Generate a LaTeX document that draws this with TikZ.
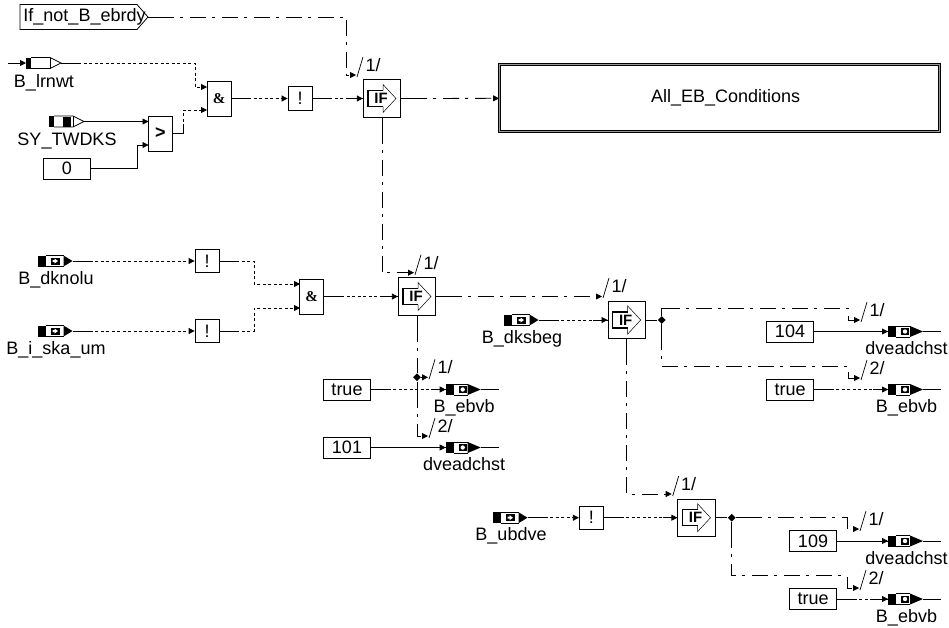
\documentclass[tikz,border=0pt]{standalone}
\usepackage{fontspec}
\setmainfont{Liberation Sans}
\newfontfamily\andfont{Liberation Serif}
\usetikzlibrary{arrows.meta,shapes.geometric}

\begin{document}
\begin{tikzpicture}[x=1pt,y=-1pt,line width=.8pt,>={Stealth[length=6pt,width=6pt,inset=0pt]},
  every node/.style={font=\fontsize{18}{20}\selectfont},
  opblock/.style={draw,inner sep=0pt,minimum width=24pt,minimum height=35pt},
  notblock/.style={draw,inner sep=0pt,minimum width=24pt,minimum height=23.5pt},
  constblock/.style={draw,inner sep=0pt,minimum width=47pt,minimum height=21pt},
  junction/.style={diamond,fill=black,inner sep=0pt,minimum size=8pt},
  dotline/.style={dash pattern=on 20pt off 2.5pt on 3pt off 2.5pt on 3pt off 2.5pt on 3pt off 2.5pt on 3pt off 2.5pt on 3pt off 2.5pt on 3pt off 2.5pt on 3pt off 2.5pt on 3pt off 2.5pt on 3pt off 2.5pt on 3pt off 2.5pt on 3pt off 2.5pt on 3pt off 2.5pt on 3pt off 2.5pt on 3pt off 2.5pt on 3pt off 2.5pt on 3pt off 2.5pt on 3pt off 2.5pt on 3pt off 2.5pt on 3pt off 2.5pt on 3pt off 2.5pt on 3pt off 2.5pt on 3pt off 2.5pt on 3pt off 2.5pt on 3pt off 2.5pt on 3pt off 2.5pt on 3pt off 2.5pt on 3pt off 2.5pt on 3pt off 2.5pt},
  chainline/.style={dash pattern=on 26pt off 6pt on 3pt off 7pt on 16pt off 6pt on 3pt off 7pt on 16pt off 6pt on 3pt off 7pt on 16pt off 6pt on 3pt off 7pt on 16pt off 6pt on 3pt off 7pt on 16pt off 6pt on 3pt off 7pt on 16pt off 6pt on 3pt off 7pt on 16pt off 6pt on 3pt off 7pt on 16pt off 6pt on 3pt off 7pt on 16pt off 6pt on 3pt off 7pt},
  pics/ifblock/.style={code={
    \node[draw,inner sep=0pt,minimum width=37.5pt,minimum height=37.5pt] (-box) at (0,0) {};
    \draw (-34,0) -- (-box.west);
    \draw[line width=1.1pt] (1,-8) -- (-14,-8) -- (-14,8) -- (1,8);
    \draw[line width=.5pt] (1,8) -- (1,14) -- (14,0) -- (1,-14) -- (1,-8);
    \node[font=\fontsize{15}{16}\bfseries\selectfont,inner sep=0pt] at (-1,0) {IF};
  }},
  pics/sigport/.style={code={
    \coordinate (-left) at (0,0);
    \coordinate (-tip) at (35,0);
    \fill (0,-5.5) rectangle (8,5.5);
    \draw (8,-5.5) -- (26,-5.5) (8,5.5) -- (26,5.5);
    \fill (26,-5.5) -- (35,0) -- (26,5.5) -- cycle;
    \fill (13,-3.5) rectangle (22,3.5);
    \fill[white] (15,-1) -- (17,-1) -- (17,-2.5) -- (20.5,0) -- (17,2.5) -- (17,1) -- (15,1) -- cycle;
    \node[anchor=base,inner sep=0pt] at (18.5,23) {#1};
  }},
  pics/outport/.style={code={
    \coordinate (-left) at (0,0);
    \coordinate (-free) at (53,0);
    \draw (-15,0) -- (-left);
    \fill (0,-5.5) rectangle (8,5.5);
    \draw (8,-5.5) -- (22,-5.5) (8,5.5) -- (22,5.5);
    \fill (22,-5.5) -- (35,0) -- (22,5.5) -- cycle;
    \fill (13,-3.5) rectangle (21,3.5);
    \fill[white] (17,0) circle (2.2pt);
    \draw (35,0) -- (-free);
    \node[anchor=base,inner sep=0pt] at (18.5,23) {#1};
  }},
  pics/hollowport/.style={code={
    \coordinate (-left) at (0,0);
    \coordinate (-tip) at (35,0);
    \fill (0,-5.5) rectangle (5,5.5);
    \draw (5,-5.5) -- (24,-5.5) -- (35,0) -- (24,5.5) -- (5,5.5);
    \draw[line width=.5pt] (24,-5.5) -- (24,5.5);
    \node[anchor=base,inner sep=0pt] at (18,24) {#1};
  }},
  pics/tagmark/.style={code={
    \coordinate (-end) at (0,0);
    \draw[line width=.7pt] (1,2) -- (7,-18);
    \node[inner sep=0pt] at (17,-10) {#1};
  }}]
  \useasboundingbox (0,0) rectangle (949,627);
  \draw (20,4.5) -- (137,4.5) -- (148,17) -- (137,29.5) -- (20,29.5) -- cycle;
  \node[inner sep=0pt] (ifnot) at (84.5,17) {If\_not\_B\_ebrdy};
  \coordinate (ifnottip) at (148,17);
  \pic (lrnwt) at (26,63) {hollowport={B\_lrnwt}};
  \pic (twdks) at (49,121.5) {hollowport={SY\_TWDKS}};
  \fill (63,116.5) rectangle (71,126.5);
  \coordinate (lrnfree) at (8,63);
  \node[constblock] (zero) at (67,168.5) {0};
  \node[opblock] (gt) at (160.5,133.5) {\bfseries >};
  \node[opblock] (anda) at (219,98.5) {\fontsize{15}{16}\andfont\bfseries\&};
  \node[notblock] (nota) at (300,98.5) {!};
  \pic (ifa) at (382,98.5) {ifblock};
  \node[draw,double=gray!80,double distance=1.6pt,inner sep=0pt,minimum width=440pt,minimum height=67pt] (cond) at (719.5,98) {\hspace{12.4pt}All\_EB\_Conditions};
  \pic (dknolu) at (37.5,261) {sigport={B\_dknolu}};
  \pic (iskaum) at (37.5,331) {sigport={B\_i\_ska\_um}};
  \node[notblock] (notb) at (207,261) {!};
  \node[notblock] (notc) at (207,331) {!};
  \node[opblock] (andb) at (311.7,296.5) {\fontsize{15}{16}\andfont\bfseries\&};
  \pic (ifb) at (417,296.5) {ifblock};
  \pic (dksbeg) at (503.5,320) {sigport={B\_dksbeg}};
  \pic (ifc) at (626.7,320) {ifblock};
  \pic (ubdve) at (492.5,517.7) {sigport={B\_ubdve}};
  \node[notblock] (notd) at (591.3,517.7) {!};
  \pic (ifd) at (696.5,517.7) {ifblock};
  \node[constblock] (truea) at (347,389.5) {true};
  \node[constblock] (cona) at (347,447.5) {101};
  \node[constblock] (conb) at (790,331.5) {104};
  \node[constblock] (trueb) at (790,389.5) {true};
  \node[constblock] (conc) at (813,541) {109};
  \node[constblock] (truec) at (813,599) {true};
  \pic (ebvba) at (445.7,389.5) {outport={B\_ebvb}};
  \pic (chsta) at (445.7,447.5) {outport={dveadchst}};
  \pic (chstb) at (888,331.5) {outport={dveadchst}};
  \pic (ebvbb) at (888,389.5) {outport={B\_ebvb}};
  \pic (chstc) at (888,541) {outport={dveadchst}};
  \pic (ebvbc) at (888,599) {outport={B\_ebvb}};
  \node[junction] (joina) at (417,377.3) {};
  \node[junction] (joinb) at (661.7,320) {};
  \node[junction] (joinc) at (731.7,517.7) {};
  \pic (taga) at (356,75) {tagmark={1/}};
  \pic (tagb) at (414,272.7) {tagmark={1/}};
  \pic (tagc) at (602,296) {tagmark={1/}};
  \pic (tagd) at (671.7,494) {tagmark={1/}};
  \pic (tage) at (428,377.3) {tagmark={1/}};
  \pic (tagf) at (428,436) {tagmark={2/}};
  \pic (tagg) at (860,320) {tagmark={1/}};
  \pic (tagh) at (860,378) {tagmark={2/}};
  \pic (tagi) at (859,529) {tagmark={1/}};
  \pic (tagj) at (859,588) {tagmark={2/}};
  \draw[chainline,->] (ifnottip) -- (346.7,17) |- (taga-end);
  \draw[->] (lrnfree) -- (lrnwt-left);
  \draw[dotline,->] (lrnwt-tip) -- (195,63) |- (207,87);
  \draw[->] (twdks-tip) -- (148.5,121.5);
  \draw[->] (zero.east) -- (137,168.5) |- (148.5,145);
  \draw[dotline,->] (gt.east) -- (183.5,133.5) |- (207,110);
  \draw[dotline,->] (dknolu-tip) -- (notb);
  \draw[dotline,->] (iskaum-tip) -- (notc);
  \draw[dotline,->] (notb.east) -- (254,261) |- (300,284);
  \draw[dotline,->] (notc.east) -- (254,331) |- (300,308);
  \path[->] (anda) edge[dotline] (nota)
            (nota) edge[dotline] (ifa-box)
            (ifa-box) edge[chainline] (cond)
            (andb) edge[dotline] (ifb-box)
            (dksbeg-tip) edge[dotline] (ifc-box)
            (ubdve-tip) edge[dotline] (notd)
            (notd) edge[dotline] (ifd-box)
            (truea) edge[dotline] (ebvba-left)
            (cona) edge (chsta-left)
            (conb) edge (chstb-left)
            (trueb) edge[dotline] (ebvbb-left)
            (conc) edge (chstc-left)
            (truec) edge[dotline] (ebvbc-left);
  \draw[chainline,->] (ifa-box.south) |- (tagb-end);
  \draw[chainline,->] (ifb-box.east) -- (tagc-end |- ifb-box.east);
  \draw[chainline,->] (ifc-box.south) |- (tagd-end);
  \draw (ifc-box.east) -- (joinb);
  \draw (ifd-box.east) -- (joinc);
  \draw[chainline] (ifb-box.south) -- (joina);
  \draw[->] (joina) -- (tage-end);
  \draw[chainline,->] (joina) |- (tagf-end);
  \draw[chainline,->] (joinb) |- (848,308) -- (848,320) -- (tagg-end);
  \draw[chainline,->] (joinb) |- (848,366) -- (848,378) -- (tagh-end);
  \draw[chainline,->] (joinc) -- (847,517.7) -- (847,529) -- (tagi-end);
  \draw[chainline,->] (joinc) |- (847,575.7) -- (847,588) -- (tagj-end);
\end{tikzpicture}
\end{document}
